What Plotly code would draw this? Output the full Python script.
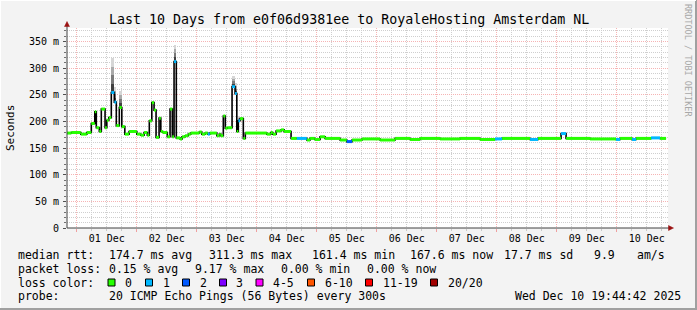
import plotly.graph_objects as go
import pandas as pd

# ---------------- data ----------------
START = pd.Timestamp("2025-11-30 19:44:42")
END = pd.Timestamp("2025-12-10 19:44:42")

# start of each consolidated step, hours after the first sample
step_hours = [0.0, 2.1, 5.9, 8.3, 10.1, 11.5, 12.1, 13.3, 14.1, 15.6, 16.3, 17.1,
              18.1, 19.3, 20.1, 21.3, 22.3, 23.5, 25.2, 28.3, 29.9, 31.2, 32.5,
              33.3, 34.3, 35.2, 36.0, 37.2, 37.9, 38.7, 40.5, 41.6, 42.5, 43.2,
              44.1, 45.6, 46.4, 47.6, 48.9, 49.9, 53.3, 54.3, 55.6, 56.7, 57.5,
              60.3, 61.3, 61.9, 62.9, 63.7, 64.5, 66.4, 67.6, 68.3, 68.9, 69.6,
              70.9, 71.7, 80.3, 81.9, 82.7, 84.0, 86.0, 87.2, 90.0, 92.3, 96.3,
              97.6, 99.5, 101.6, 103.6, 109.6, 112.3, 114.4, 118.4, 125.6, 131.6,
              137.6, 141.6, 149.6, 157.6, 165.6, 171.6, 174.4, 185.6, 188.8,
              198.0, 200.0, 209.6, 220.0, 221.6, 226.4, 228.0, 234.0, 237.6]
# median rtt of each step, ms
median_ms = [178, 179, 176, 179, 196, 218, 188, 181, 223, 188, 202, 207,
             254, 236, 192, 226, 190, 176, 181, 176, 174, 179, 174,
             201, 235, 221, 170, 206, 181, 179, 171, 223, 171, 312,
             169, 167, 171, 173, 176, 178, 180, 176, 178, 176, 178,
             173, 176, 173, 210, 187, 188, 265, 252, 181, 201, 205,
             168, 178, 176, 179, 176, 182, 184, 181, 168, 168, 165,
             168, 166, 171, 168, 165, 162, 165, 167, 165, 168,
             166, 168, 167, 168, 166, 167, 168, 166, 168,
             177, 168, 167, 166, 168, 166, 168, 169, 168]
# lost pings (of 20) of each step
loss_count = [0, 0, 0, 0, 0, 0, 0, 0, 0, 0, 0, 0,
              1, 1, 0, 0, 0, 0, 0, 0, 0, 0, 0,
              0, 0, 0, 0, 0, 0, 0, 0, 0, 0, 1,
              0, 0, 0, 0, 0, 0, 0, 0, 0, 1, 0,
              0, 0, 0, 0, 0, 0, 1, 1, 0, 1, 0,
              0, 0, 0, 0, 0, 0, 0, 0, 0, 1, 0,
              0, 0, 0, 0, 0, 2, 0, 0, 0, 0,
              0, 0, 0, 0, 0, 1, 0, 1, 0,
              1, 0, 0, 1, 0, 1, 0, 1, 0]
# top of the smoke (slowest pings) where it rises clearly above the median, ms
smoke_top_ms = [0, 0, 0, 0, 0, 0, 0, 0, 0, 0, 0, 0,
                318, 265, 0, 257, 0, 0, 0, 0, 0, 0, 0,
                0, 0, 0, 0, 0, 0, 0, 0, 0, 0, 343,
                0, 0, 0, 0, 0, 0, 0, 0, 0, 0, 0,
                0, 0, 0, 0, 0, 0, 285, 271, 0, 210, 0,
                0, 0, 0, 0, 0, 0, 0, 0, 0, 0, 0,
                0, 0, 0, 0, 0, 0, 0, 0, 0, 0,
                0, 0, 0, 0, 0, 0, 0, 0, 0,
                0, 0, 0, 0, 0, 0, 0, 0, 0]

loss_labels = ["0", "1", "2", "3", "4-5", "6-10", "11-19", "20/20"]
loss_colors = ["#26ff00", "#00b8ff", "#0059ff", "#7e00ff", "#ff00ff", "#ff5500", "#ff0000", "#a10000"]

y_tick_vals = [0, 50, 100, 150, 200, 250, 300, 350]
y_tick_text = ["0", "50 m", "100 m", "150 m", "200 m", "250 m", "300 m", "350 m"]

title_text = "Last 10 Days from e0f06d9381ee to RoyaleHosting Amsterdam NL"
stats_rtt = ["median rtt:", "174.7 ms avg", "311.3 ms max", "161.4 ms min", "167.6 ms now", "17.7 ms sd", "9.9", "am/s"]
stats_loss = ["packet loss:", "0.15 % avg", "9.17 % max", "0.00 % min", "0.00 % now"]
probe_text = ["probe:", "20 ICMP Echo Pings (56 Bytes) every 300s", "Wed Dec 10 19:44:42 2025"]

# ---------------- layout helpers ----------------
W, H = 697, 310
L, R, T, B = 67, 29, 28, 82
PW, PH = W - L - R, H - T - B
FONT = "DejaVu Sans Mono"


def px(x):
    return (x - L) / PW


def py(y):
    return 1 - (y - T) / PH


def loss_index(n):
    if n <= 3:
        return n
    if n <= 5:
        return 4
    if n <= 10:
        return 5
    if n <= 19:
        return 6
    return 7


t_start = [START + pd.Timedelta(hours=h) for h in step_hours]
t_end = t_start[1:] + [END]

fig = go.Figure()

# smoke (gradient from dark near the median to light at the top)
smoke_shades = ["#404040", "#7a7a7a", "#aaaaaa", "#d6d6d6"]
for k, col in enumerate(smoke_shades):
    xs, bases, hs, ws = [], [], [], []
    for s, e, m, top in zip(t_start, t_end, median_ms, smoke_top_ms):
        if top > m:
            band = (top - m) / len(smoke_shades)
            xs.append(s + (e - s) / 2)
            bases.append(m + k * band)
            hs.append(band)
            ws.append((e - s).total_seconds() * 1000)
    fig.add_trace(go.Bar(x=xs, y=hs, base=bases, width=ws, marker_color=col,
                         marker_line_width=0, showlegend=False, hoverinfo="skip"))

# black step connector
fig.add_trace(go.Scatter(x=t_start + [END], y=median_ms + [median_ms[-1]], mode="lines",
                         line=dict(color="#000000", width=1.6, shape="hv"),
                         showlegend=False, hoverinfo="skip"))

# median coloured by loss
for ci, col in enumerate(loss_colors):
    xs, ys = [], []
    for s, e, m, lc in zip(t_start, t_end, median_ms, loss_count):
        if loss_index(lc) == ci:
            xs += [s, e, None]
            ys += [m, m, None]
    if xs:
        fig.add_trace(go.Scatter(x=xs, y=ys, mode="lines", line=dict(color=col, width=3),
                                 showlegend=False, hoverinfo="skip"))

shapes = []
annotations = []


def ann(text, x, y, size=11.5, color="#000000", xanchor="left", angle=0):
    annotations.append(dict(text=text, x=px(x), y=py(y), xref="paper", yref="paper",
                            xanchor=xanchor, yanchor="middle", showarrow=False,
                            textangle=angle, font=dict(family=FONT, size=size, color=color)))


# axis lines and arrows
shapes.append(dict(type="line", xref="paper", yref="paper", x0=px(67), x1=px(67), y0=py(228), y1=py(25),
                   line=dict(color="#404040", width=1)))
shapes.append(dict(type="line", xref="paper", yref="paper", x0=px(67), x1=px(670), y0=py(228), y1=py(228),
                   line=dict(color="#404040", width=1)))
shapes.append(dict(type="path", xref="paper", yref="paper",
                   path=f"M {px(67)} {py(21.5)} L {px(64.5)} {py(26.5)} L {px(69.5)} {py(26.5)} Z",
                   fillcolor="#9a1010", line=dict(color="#9a1010", width=0.5)))
shapes.append(dict(type="path", xref="paper", yref="paper",
                   path=f"M {px(673.5)} {py(228)} L {px(668.5)} {py(225.5)} L {px(668.5)} {py(230.5)} Z",
                   fillcolor="#9a1010", line=dict(color="#9a1010", width=0.5)))

# frame of the image
shapes.append(dict(type="line", xref="paper", yref="paper", x0=px(0), x1=px(697), y0=py(309), y1=py(309),
                   line=dict(color="#a0a0a0", width=2)))
shapes.append(dict(type="line", xref="paper", yref="paper", x0=px(696), x1=px(696), y0=py(0), y1=py(310),
                   line=dict(color="#a0a0a0", width=2)))
shapes.append(dict(type="line", xref="paper", yref="paper", x0=px(0), x1=px(696), y0=py(0.5), y1=py(0.5),
                   line=dict(color="#ffffff", width=1)))
shapes.append(dict(type="line", xref="paper", yref="paper", x0=px(0.5), x1=px(0.5), y0=py(0), y1=py(308),
                   line=dict(color="#ffffff", width=1)))

# texts
ann(title_text, 349, 19, size=13.3, xanchor="center")
ann("Seconds", 10, 128, size=11, angle=-90, xanchor="center")
ann("RRDTOOL / TOBI OETIKER", 688, 60, size=8.5, color="#a8a8a8", angle=90, xanchor="center")

rtt_x = [16, 107, 207, 310, 407.5, 501.5, 592, 635]
for txt, x in zip(stats_rtt, rtt_x):
    ann(txt, x, 254.5)
loss_x = [16, 107, 193, 279, 365]
for txt, x in zip(stats_loss, loss_x):
    ann(txt, x, 268.5)
ann("loss color:", 16, 282.5)
box_x = [108, 145.5, 182.5, 219.5, 256, 307.5, 365.5, 430.5]
for lab, col, bx in zip(loss_labels, loss_colors, box_x):
    shapes.append(dict(type="rect", xref="paper", yref="paper", x0=px(bx), x1=px(bx + 7),
                       y0=py(286), y1=py(279), fillcolor=col, line=dict(color="#000000", width=1)))
    ann(lab, bx + 15, 282.5)
probe_x = [16, 107, 513]
for txt, x in zip(probe_text, probe_x):
    ann(txt, x, 296)

x_left = pd.Timestamp("2025-12-01 00:00") - pd.Timedelta(hours=(76.7 - 67) / 2.5)
x_right = pd.Timestamp("2025-12-10 00:00") + pd.Timedelta(hours=(668 - 616.7) / 2.5)

fig.update_layout(
    width=W, height=H,
    margin=dict(l=L, r=R, t=T, b=B, pad=0),
    paper_bgcolor="#f3f3f3", plot_bgcolor="#ffffff",
    barmode="overlay", bargap=0,
    showlegend=False,
    shapes=shapes, annotations=annotations,
    font=dict(family=FONT, size=10, color="#000000"),
    xaxis=dict(type="date", range=[x_left, x_right], tick0="2025-12-01", dtick=86400000,
               tickformat="%d %b", ticklabelmode="period",
               showgrid=True, gridcolor="#f6b4b4", griddash="1px,1px", gridwidth=1,
               ticks="outside", ticklen=3, tickcolor="#f0a0a0", ticklabelstandoff=-2,
               minor=dict(dtick=21600000, showgrid=True, gridcolor="#cfcfcf", griddash="1px,1px",
                          ticks="outside", ticklen=2, tickcolor="#c8c8c8"),
               showline=False, zeroline=False, fixedrange=True,
               tickfont=dict(family=FONT, size=10, color="#000000")),
    yaxis=dict(range=[0, 375], tickvals=y_tick_vals, ticktext=y_tick_text,
               showgrid=True, gridcolor="#f6b4b4", griddash="1px,1px", gridwidth=1,
               ticks="outside", ticklen=3, tickcolor="#505050", ticklabelstandoff=2,
               minor=dict(dtick=10, showgrid=True, gridcolor="#cfcfcf", griddash="1px,1px",
                          ticks="outside", ticklen=2, tickcolor="#707070"),
               showline=False, zeroline=False, fixedrange=True,
               tickfont=dict(family=FONT, size=10, color="#000000")),
)

fig.write_html("out.html")
